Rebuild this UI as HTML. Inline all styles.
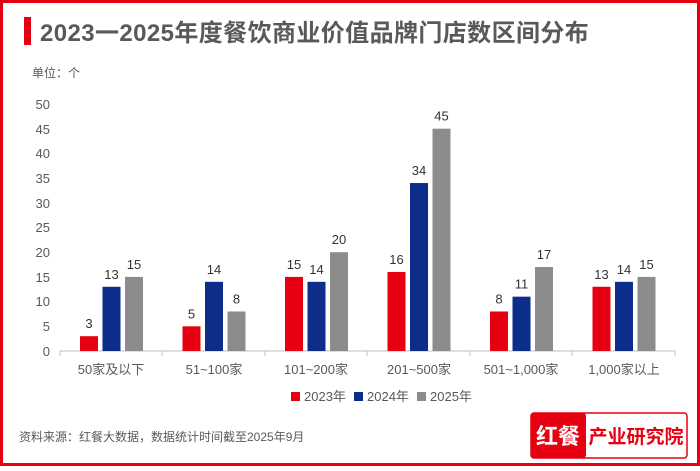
<!DOCTYPE html>
<html><head><meta charset="utf-8"><style>
body{margin:0;width:700px;height:466px;overflow:hidden;background:#fff;font-family:"Liberation Sans","Noto Sans CJK SC",sans-serif}
</style></head><body>
<svg width="700" height="466" xmlns="http://www.w3.org/2000/svg" font-family="Liberation Sans, Noto Sans CJK SC, sans-serif">
<rect x="1.5" y="1.5" width="697" height="463" fill="#fff" stroke="#e60012" stroke-width="3"/>
<rect x="24" y="17" width="7" height="28" fill="#e60012"/>
<text x="40" y="41" font-size="24" font-weight="bold" fill="#595959" letter-spacing="0.4">2023一2025年度餐饮商业价值品牌门店数区间分布</text>
<text x="32" y="77" font-size="12" fill="#595959">单位：个</text>
<g font-size="13" fill="#595959" text-anchor="end">
<text x="50" y="356">0</text><text x="50" y="331">5</text><text x="50" y="306">10</text><text x="50" y="282">15</text><text x="50" y="257">20</text><text x="50" y="232">25</text><text x="50" y="208">30</text><text x="50" y="183">35</text><text x="50" y="158">40</text><text x="50" y="134">45</text><text x="50" y="109">50</text>
</g>
<line x1="60" y1="351" x2="675" y2="351" stroke="#bfbfbf"/>
<g stroke="#bfbfbf"><line x1="60" y1="351" x2="60" y2="356"/><line x1="162" y1="351" x2="162" y2="356"/><line x1="265" y1="351" x2="265" y2="356"/><line x1="367" y1="351" x2="367" y2="356"/><line x1="470" y1="351" x2="470" y2="356"/><line x1="572" y1="351" x2="572" y2="356"/><line x1="675" y1="351" x2="675" y2="356"/></g>
<g id="bars" font-size="13" fill="#333" text-anchor="middle"></g>
<g font-size="13" fill="#595959" text-anchor="middle">
<text x="111" y="374">50家及以下</text><text x="214" y="374">51~100家</text><text x="316" y="374">101~200家</text><text x="419" y="374">201~500家</text><text x="521" y="374">501~1,000家</text><text x="624" y="374">1,000家以上</text>
</g>
<g font-size="13" fill="#595959">
<rect x="291" y="392" width="9" height="9" fill="#e60012"/><text x="304" y="401">2023年</text>
<rect x="354" y="392" width="9" height="9" fill="#0c2d8a"/><text x="367" y="401">2024年</text>
<rect x="417" y="392" width="9" height="9" fill="#8c8c8c"/><text x="430" y="401">2025年</text>
</g>
<text x="19" y="441" font-size="12" fill="#595959">资料来源：红餐大数据，数据统计时间截至2025年9月</text>
<rect x="531" y="413" width="156" height="45" rx="3" fill="#fff" stroke="#e60012" stroke-width="1.5"/>
<rect x="531" y="413" width="55" height="45" rx="3" fill="#e60012"/>
<text x="558" y="444" font-size="22" font-weight="bold" fill="#fff" text-anchor="middle">红餐</text>
<text x="636" y="443" font-size="19" font-weight="bold" fill="#e60012" text-anchor="middle">产业研究院</text>
</svg>
<script>
var d=[[3,13,15],[5,14,8],[15,14,20],[16,34,45],[8,11,17],[13,14,15]],c=["#e60012","#0c2d8a","#8c8c8c"],g=document.getElementById("bars"),s="";
for(var i=0;i<6;i++)for(var j=0;j<3;j++){var x=80+i*102.5+j*22.5,h=d[i][j]*4.94;
s+='<rect x="'+x+'" y="'+(351-h)+'" width="18" height="'+h+'" fill="'+c[j]+'"/><text x="'+(x+9)+'" y="'+(351-h-8)+'">'+d[i][j]+'</text>';}
g.innerHTML=s;
</script>
</body></html>
